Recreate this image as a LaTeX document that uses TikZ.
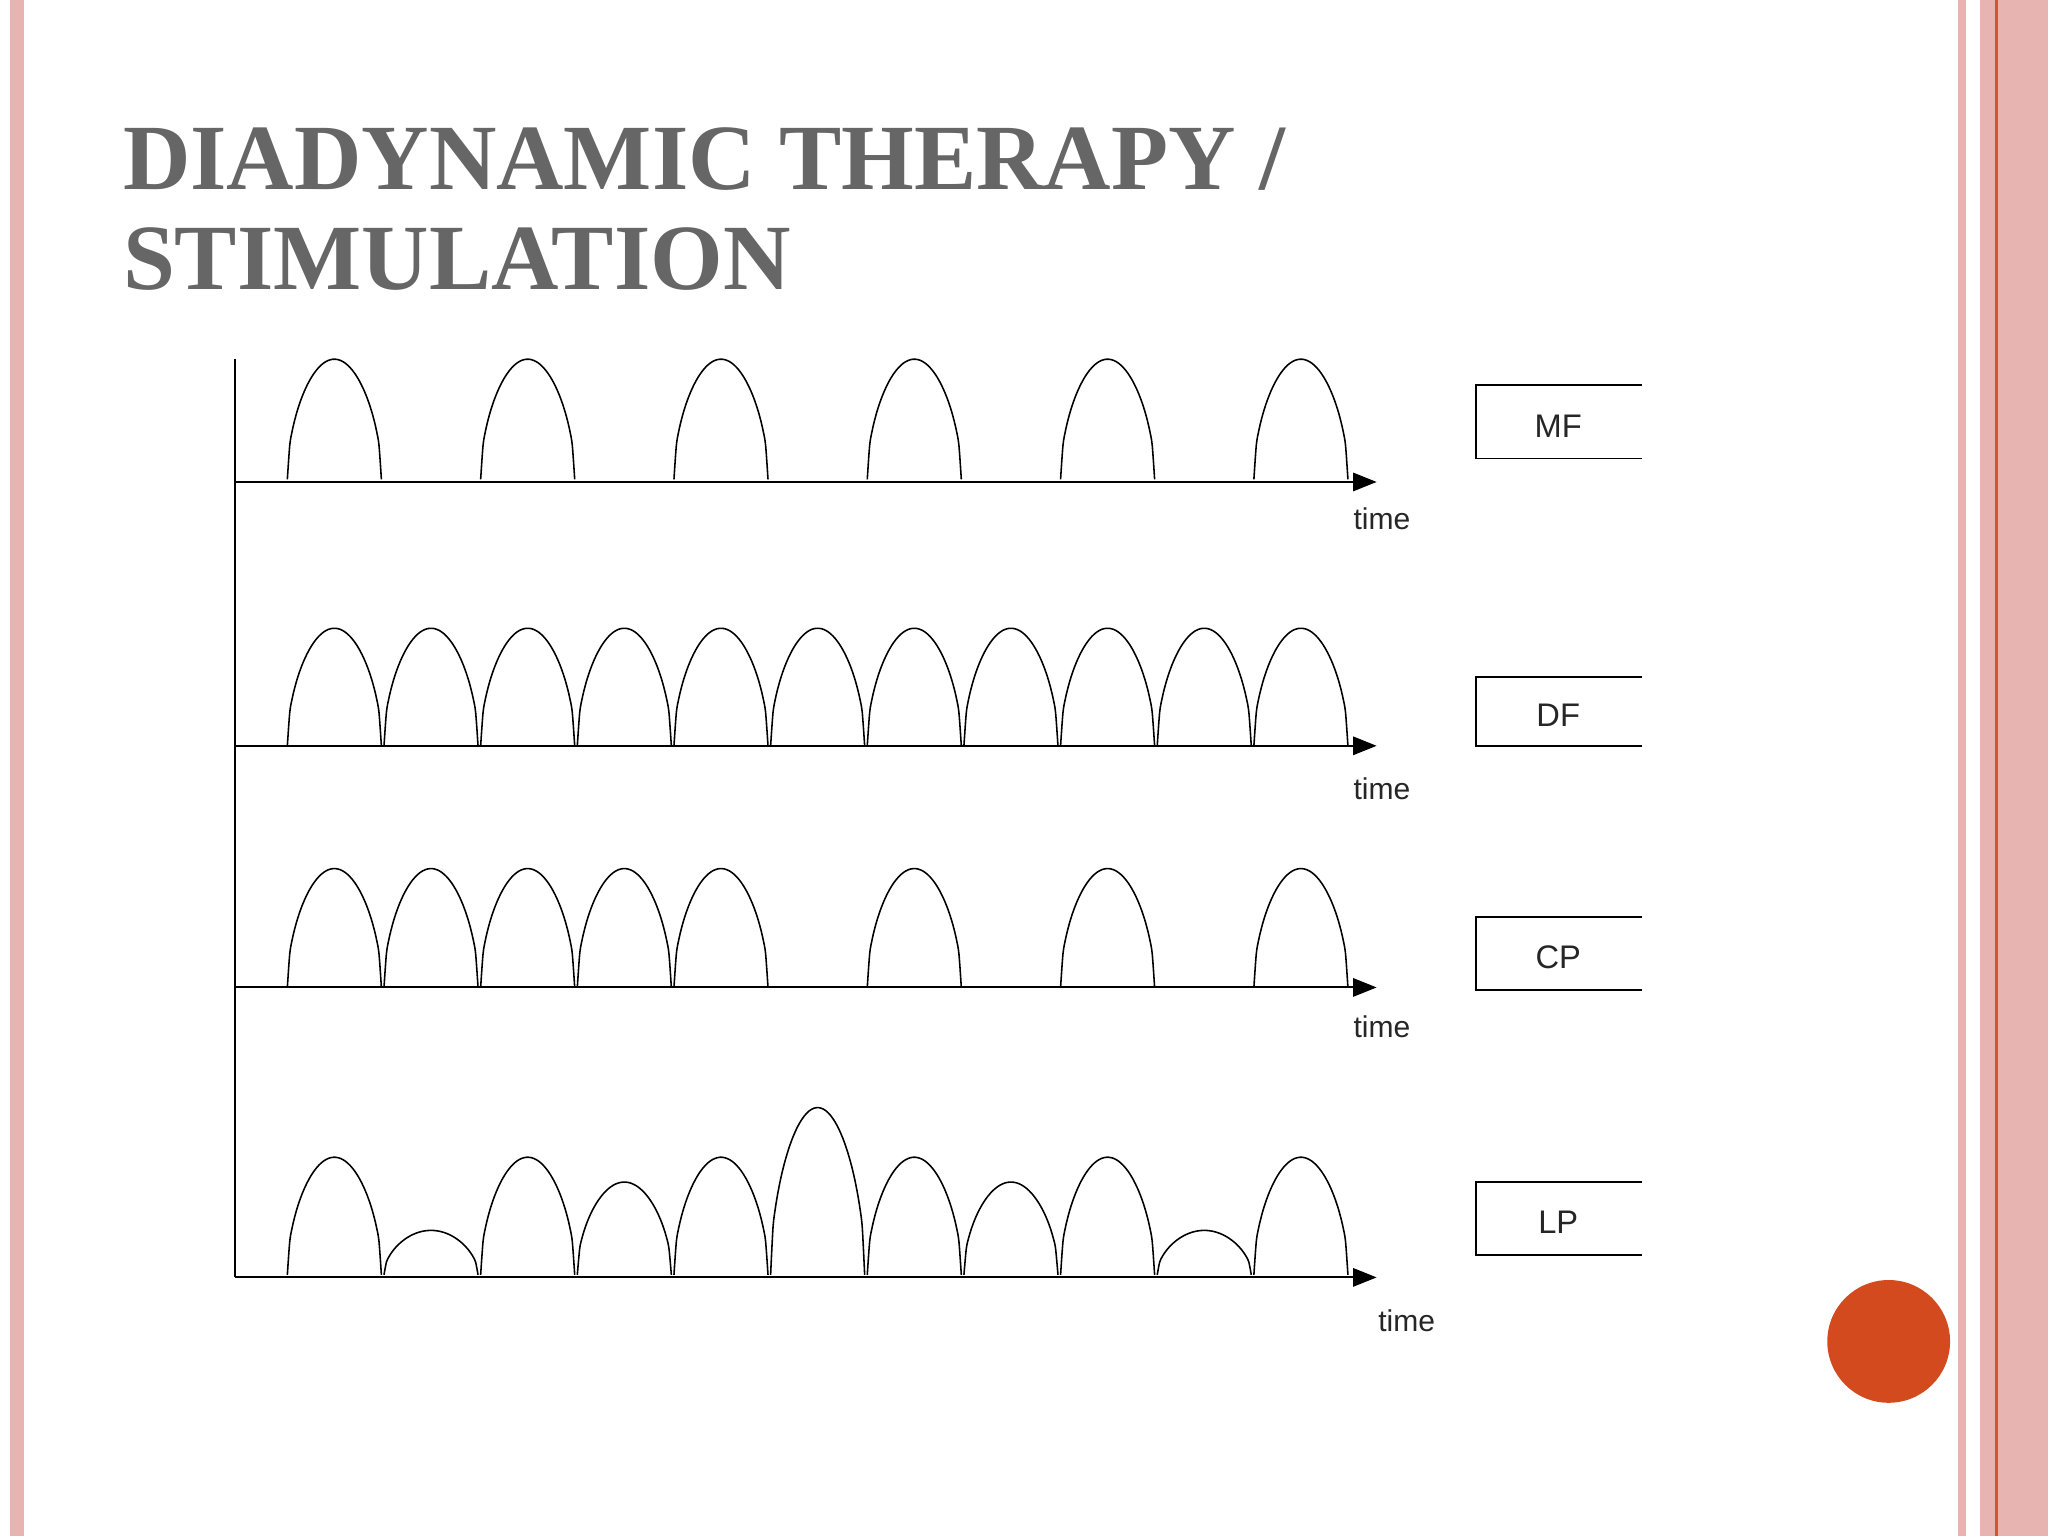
\documentclass[tikz,border=0pt]{standalone}
\usepackage{fontspec}
\setmainfont{Liberation Serif}
\newfontfamily\labfont{Liberation Sans}
\usetikzlibrary{arrows.meta}
\definecolor{pinkb}{HTML}{E8B4B2}
\definecolor{redl}{HTML}{D8522E}
\definecolor{orng}{HTML}{D34A1E}
\definecolor{ttl}{HTML}{666666}
\tikzset{
  axis/.style={line width=1.6pt,-{Triangle[length=18pt,width=14pt]}},
  pulse/.style={line width=1.2pt},
  tlab/.style={font=\labfont\fontsize{23}{23}\selectfont,text=black!85},
  mlab/.style={font=\labfont\fontsize{25}{25}\selectfont,text=black!85},
  boxl/.style={line width=1.4pt}
}
\newcommand{\arch}[3]{% x, baseline, height
  \draw[pulse] plot[domain=0:72,samples=40,smooth] ({#1+\x},{#2-#3*(sin(\x*2.5))^0.5});}
\begin{document}
\begin{tikzpicture}[x=1pt,y=-1pt]
\useasboundingbox (0,0) rectangle (1568,1176);
\fill[white] (0,0) rectangle (1568,1176);
% borders
\fill[pinkb] (8,0) rectangle (18,1176);
\fill[pinkb] (1499,0) rectangle (1505,1176);
\fill[pinkb] (1516,0) rectangle (1568,1176);
\fill[redl] (1527.5,0) rectangle (1529.5,1176);
% title
\node[anchor=base west,inner sep=0,text=ttl,font=\bfseries\fontsize{71.5}{78}\selectfont,align=left] (title) at (94,145) {DIADYNAMIC THERAPY /};
\node[anchor=base west,inner sep=0,text=ttl,font=\bfseries\fontsize{71.5}{78}\selectfont] (title2) at (94,222) {STIMULATION};
% vertical axis
\coordinate (vtop) at (180,275);
\coordinate (vbot) at (180,978);
\draw[line width=1.6pt] (vtop) -- (vbot);
% horizontal axes
\foreach \y/\n in {369/a,571/b,756/c,978/d}{
  \coordinate (s\n) at (180,\y);
  \coordinate (e\n) at (1054,\y);
  \draw[axis] (s\n) -- (e\n);
}
% MF
\foreach \i in {0,2,4,6,8,10}{\arch{220+74*\i}{367}{92}}
% DF
\foreach \i in {0,...,10}{\arch{220+74*\i}{571}{90}}
% CP
\foreach \i in {0,1,2,3,4,6,8,10}{\arch{220+74*\i}{756}{91}}
% LP
\foreach \i/\h in {0/90,1/34,2/90,3/71,4/90,5/128,6/90,7/71,8/90,9/34,10/90}{\arch{220+74*\i}{976}{\h}}
% time labels
\node[tlab] (t1) at (1058,397) {time};
\node[tlab] (t2) at (1058,604) {time};
\node[tlab] (t3) at (1058,786) {time};
\node[tlab] (t4) at (1077,1011) {time};
% label boxes
\foreach \t/\b/\l in {295/351/MF,518/571/DF,702/758/CP,905/961/LP}{
  \draw[boxl] (1257,\t) -- (1130,\t) -- (1130,\b) -- (1257,\b);
  \node[mlab] (lab\l) at (1193,{(\t+\b)/2+3}) {\l};
}
% orange circle
\fill[orng] (1446,1027) circle (47);
\end{tikzpicture}
\end{document}
